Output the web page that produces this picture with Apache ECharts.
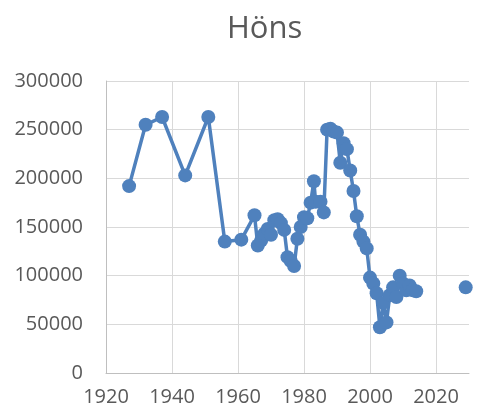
<!DOCTYPE html>
<html>
<head>
<meta charset="utf-8">
<script src="https://cdn.jsdelivr.net/npm/echarts@6/dist/echarts.min.js"></script>
<style>
  html, body { margin: 0; padding: 0; background: #fff; }
  #chart { width: 478px; height: 414px; }
</style>
</head>
<body>
<div id="chart"></div>
<script>
// Höns - antal per år (null = lucka i serien)
const years = [1927, 1932, 1937, 1944, 1951, 1956, 1961, 1965, 1966, 1967, 1968, 1969, 1970,
  1971, 1972, 1973, 1974, 1975, 1976, 1977, 1978, 1979, 1980, 1981, 1982, 1983, 1983.5,
  1985, 1986, 1987, 1988, 1989, 1990, 1991, 1992, 1993, 1994, 1995, 1996, 1997, 1998,
  1999, 2000, 2001, 2002, 2003, 2004, 2005, 2006, 2007, 2008, 2009, 2010, 2011, 2012,
  2013, 2014, 2020, 2029];
const hens = [192000, 255000, 263000, 203000, 263000, 135000, 137000, 162000, 131000, 136000,
  143000, 148000, 142000, 157000, 158000, 154000, 147000, 119000, 115000, 110000, 138000,
  150000, 160000, 159000, 175000, 197000, 176000, 176000, 165000, 250000, 251000, 248000,
  247000, 216000, 236000, 230000, 208000, 187000, 161000, 142000, 135000, 128000, 98000,
  92000, 82000, 47000, 72000, 52000, 80000, 88000, 78000, 100000, 92000, 85000, 90000,
  85000, 84000, null, 88000];
const xTicks = { min: 1920, max: 2030, step: 20 };
const yTicks = { min: 0, max: 300000, step: 50000 };

const data = years.map((y, i) => [y, hens[i] == null ? '-' : hens[i]]);

const chart = echarts.init(document.getElementById('chart'));
const labelFont = { color: '#595959', fontSize: 20, fontFamily: 'Open Sans' };
chart.setOption({
  animation: false,
  title: {
    text: 'Höns',
    left: 222,
    top: 9,
    textStyle: { color: '#595959', fontSize: 31, fontWeight: 'normal', fontFamily: 'Open Sans' }
  },
  grid: { left: 106, right: 9, top: 81, bottom: 41 },
  xAxis: {
    type: 'value',
    min: xTicks.min,
    max: xTicks.max,
    interval: xTicks.step,
    axisLine: { show: true, lineStyle: { color: '#bfbfbf', width: 1 } },
    axisTick: { show: false },
    splitLine: { show: true, showMaxLine: false, lineStyle: { color: '#d9d9d9', width: 1 } },
    axisLabel: Object.assign({ margin: 14, showMaxLabel: false, formatter: v => String(v) }, labelFont)
  },
  yAxis: {
    type: 'value',
    min: yTicks.min,
    max: yTicks.max,
    interval: yTicks.step,
    axisLine: { show: true, lineStyle: { color: '#bfbfbf', width: 1 } },
    axisTick: { show: false },
    splitLine: { show: true, lineStyle: { color: '#d9d9d9', width: 1 } },
    axisLabel: Object.assign({ margin: 23, formatter: v => String(v) }, labelFont)
  },
  series: [{
    type: 'line',
    data: data,
    connectNulls: false,
    symbol: 'circle',
    symbolSize: 14,
    lineStyle: { color: '#4f81bd', width: 3.5 },
    itemStyle: { color: '#4f81bd' }
  }]
});
</script>
</body>
</html>
